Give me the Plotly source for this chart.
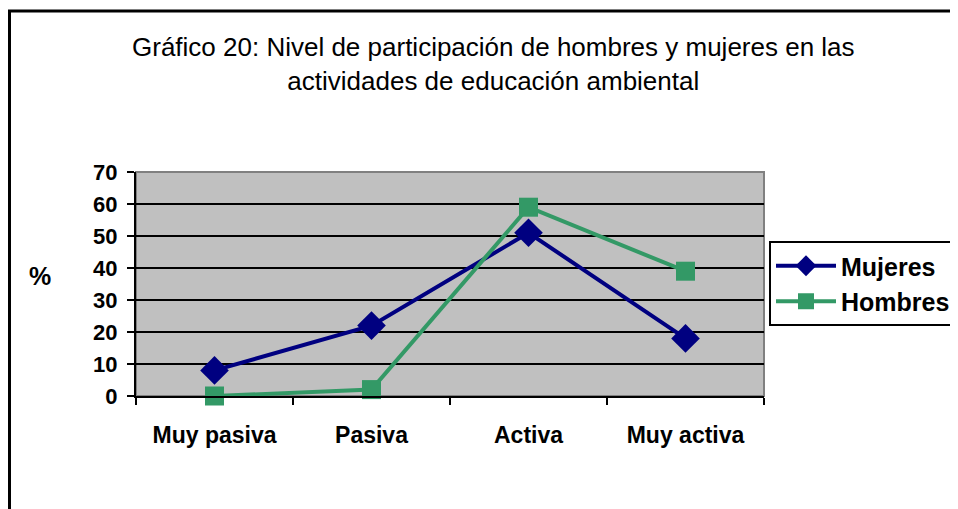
import plotly.graph_objects as go

categories = ["Muy pasiva", "Pasiva", "Activa", "Muy activa"]
mujeres = [8, 22, 51, 18]
hombres = [0, 2, 59, 39]
y_ticks = [0, 10, 20, 30, 40, 50, 60, 70]

title_text = "Gráfico 20: Nivel de participación de hombres y mujeres en las<br>actividades de educación ambiental"

FONT = "Liberation Sans, Arial, sans-serif"

fig = go.Figure()
fig.add_trace(go.Scatter(
    x=categories, y=mujeres, name="Mujeres", mode="lines+markers",
    line=dict(color="#000080", width=4),
    marker=dict(symbol="diamond", size=22, color="#000080"),
    cliponaxis=False,
))
fig.add_trace(go.Scatter(
    x=categories, y=hombres, name="Hombres", mode="lines+markers",
    line=dict(color="#339966", width=4),
    marker=dict(symbol="square", size=19, color="#339966"),
    cliponaxis=False,
))

OFF = 8  # browser body margin
W, H = 958 - OFF, 509 - OFF
L, R, T, B = 136 - OFF, 764 - OFF, 172 - OFF, 396 - OFF
pw, ph = R - L, B - T

def px(x):
    return (x - OFF - L) / pw

def py(y):
    return (B - (y - OFF)) / ph

fig.update_layout(
    width=W, height=H,
    margin=dict(l=L, r=W - R, t=T, b=H - B, autoexpand=False),
    paper_bgcolor="white",
    plot_bgcolor="#C0C0C0",
    font=dict(family=FONT, color="black"),
    showlegend=True,
    legend=dict(
        x=px(769), y=py(241), xanchor="left", yanchor="top",
        bordercolor="black", borderwidth=2, bgcolor="white",
        font=dict(size=25, family=FONT, weight="bold"),
        itemwidth=60, tracegroupgap=0,
    ),
    xaxis=dict(
        type="category", range=[-0.5, 3.5],
        showgrid=False, zeroline=False,
        showline=True, linecolor="black", linewidth=2,
        ticks="outside", tickson="boundaries", ticklen=7, tickwidth=2, tickcolor="black",
        tickfont=dict(size=23, family=FONT, weight="bold"),
        ticklabelstandoff=17,
    ),
    yaxis=dict(
        range=[0, 70], tickvals=y_ticks,
        showgrid=True, gridcolor="black", gridwidth=2,
        zeroline=False,
        showline=True, linecolor="black", linewidth=2,
        ticks="outside", ticklen=7, tickwidth=2, tickcolor="black",
        tickfont=dict(size=22, family=FONT, weight="bold"),
        ticklabelstandoff=5,
    ),
    shapes=[
        dict(type="rect", xref="paper", yref="paper", x0=0, x1=1, y0=0, y1=1,
             line=dict(color="#808080", width=2), layer="below"),
        dict(type="line", xref="paper", yref="paper",
             x0=px(9.5), x1=px(9.5), y0=py(10), y1=py(530),
             line=dict(color="black", width=3)),
        dict(type="line", xref="paper", yref="paper",
             x0=px(8), x1=px(980), y0=py(11), y1=py(11),
             line=dict(color="black", width=3)),
    ],
    annotations=[
        dict(text=title_text, xref="paper", yref="paper",
             x=px(493), y=py(30), xanchor="center", yanchor="top",
             showarrow=False, align="center",
             font=dict(size=26, family=FONT),
             ),
        dict(text="<b>%</b>", xref="paper", yref="paper",
             x=px(40), y=py(276), xanchor="center", yanchor="middle",
             showarrow=False, font=dict(size=25, family=FONT)),
    ],
)

fig.write_html("out.html")
